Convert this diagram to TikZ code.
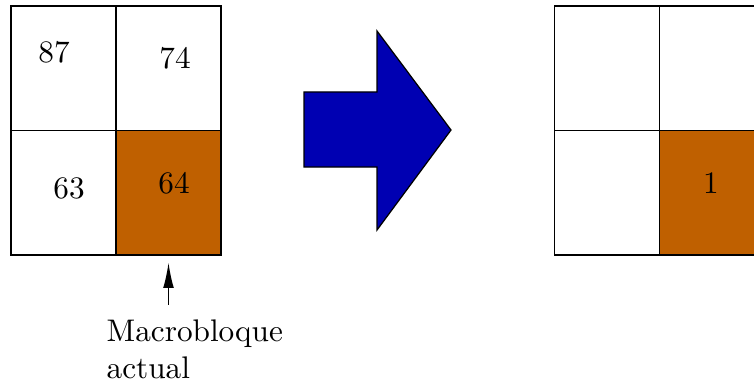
\documentclass[tikz,border=0pt]{standalone}
\usetikzlibrary{positioning,arrows.meta}
\definecolor{blockorange}{RGB}{191,96,0}
\definecolor{arrowblue}{RGB}{0,0,178}
\tikzset{%
	>={Latex[length=8pt,width=3.4pt]},
	% Specifications for style of nodes:
	cell/.style = {rectangle, draw=black, minimum width=33.6pt,
		minimum height=39.84pt, inner sep=0pt, outer sep=0pt},
	current/.style = {cell, fill=blockorange},
	value/.style = {inner sep=0pt},
	bigarrow/.style = {draw=black, fill=arrowblue},
}

\begin{document}
\begin{tikzpicture}[x=0.32pt, y=-0.32pt]
\clip (0,0) rectangle (754,386);
%% Specification of nodes (position, etc.)
\node (c87) [cell] at (63.5,68.25) {};
\node (c74) [cell, right=0pt of c87] {};
\node (c63) [cell, below=0pt of c87] {};
\node (c64) [current, right=0pt of c63] {};

\node (r11) [cell] at (607,68.25) {};
\node (r12) [cell, right=0pt of r11] {};
\node (r21) [cell, below=0pt of r11] {};
\node (r22) [current, right=0pt of r21] {};

\node (v87) [value] at (54,52) {87};
\node (v74) [value] at (175,58) {74};
\node (v63) [value] at (69,188) {63};
\node (v64) [value] at (174,183) {64};
\node (v1)  [value] at (711,183) {1};

\node (macro) [align=left, anchor=north west, inner sep=0pt] at (106,319) {Macrobloque\\actual};

%% big arrow between the two blocks
\draw[bigarrow] (304,92) -- (377,92) -- (377,31) -- (451,130) -- (377,230)
	-- (377,167) -- (304,167) -- cycle;

%% pointer to the current block
\draw[->, shorten <=4.5pt, shorten >=2.5pt] (c64.south |- macro.north) -- (c64.south);
\end{tikzpicture}
\end{document}
